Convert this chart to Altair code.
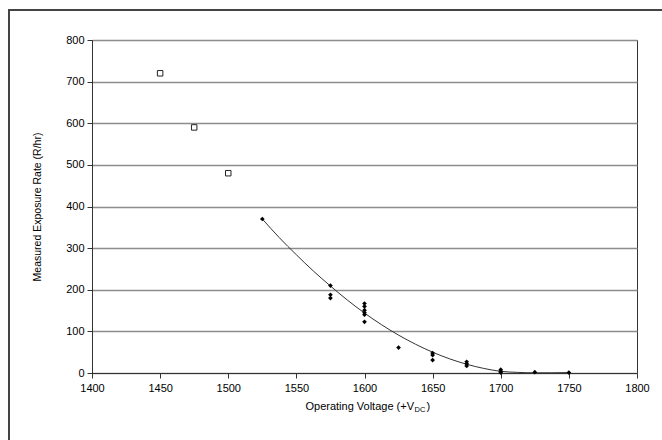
import altair as alt
import pandas as pd

# Open-square series
sq_volt = [1450, 1475, 1500]
sq_rate = [720, 590, 480]

# Filled-diamond series
dm_volt = [1525, 1575, 1575, 1575, 1600, 1600, 1600, 1600, 1600, 1600,
           1625, 1650, 1650, 1650, 1675, 1675, 1675, 1700, 1700, 1700, 1725, 1750]
dm_rate = [370, 210, 188, 180, 167, 160, 151, 145, 140, 123,
           61, 48, 43, 31, 27, 22, 17, 8, 4, 1, 2, 1]

# Trend line
tr_volt = [1525, 1537.5, 1550, 1562.5, 1575, 1587.5, 1600, 1612.5, 1625, 1637.5,
           1650, 1662.5, 1675, 1687.5, 1700, 1712.5, 1725, 1737.5, 1750]
tr_rate = [370, 325, 284, 245, 209, 175, 144, 116, 91, 69,
           50, 34, 21, 11, 4, 1.5, 0.5, 0.5, 1]

x_title = ["Operating Voltage (+V"]
x_sub = ["DC"]
x_close = [")"]
y_title = "Measured Exposure Rate (R/hr)"

FONT = "Liberation Sans"

sq = pd.DataFrame({"v": sq_volt, "r": sq_rate})
dm = pd.DataFrame({"v": dm_volt, "r": dm_rate})
tr = pd.DataFrame({"v": tr_volt, "r": tr_rate})

xs = alt.Scale(domain=[1400, 1800], nice=False, zero=False)
ys = alt.Scale(domain=[0, 800], nice=False)

xax = alt.Axis(values=list(range(1400, 1801, 50)), format="d", grid=False, title=None,
               labelFont=FONT, labelFontSize=11, labelColor="#000",
               domainColor="#333", tickColor="#333", tickSize=5, labelPadding=4,
               labelFlush=False)
yax = alt.Axis(values=list(range(0, 801, 100)), format="d", grid=True, gridColor="#8c8c8c",
               gridWidth=1.5, title=y_title, titleFont=FONT, titleFontSize=10.5,
               titleFontWeight="normal", titleColor="#000", titlePadding=23,
               labelFont=FONT, labelFontSize=11, labelColor="#000",
               domainColor="#333", tickColor="#333", tickSize=5, labelPadding=3)

base_line = alt.Chart(tr).mark_line(color="#333", strokeWidth=1, interpolate="monotone").encode(
    x=alt.X("v:Q", scale=xs, axis=xax),
    y=alt.Y("r:Q", scale=ys, axis=yax),
)

squares = alt.Chart(sq).mark_point(shape="square", size=30, filled=False,
                                   color="#222", strokeWidth=1, fill="white", fillOpacity=1).encode(
    x=alt.X("v:Q", scale=xs), y=alt.Y("r:Q", scale=ys))

diamonds = alt.Chart(dm).mark_point(shape="diamond", size=22, filled=True,
                                    color="#000", opacity=1).encode(
    x=alt.X("v:Q", scale=xs), y=alt.Y("r:Q", scale=ys))

t1 = alt.Chart(pd.DataFrame({"t": x_title})).mark_text(
    font=FONT, fontSize=11, align="right", baseline="alphabetic", color="#000").encode(
    x=alt.value(322), y=alt.value(370), text="t:N")
t2 = alt.Chart(pd.DataFrame({"t": x_sub})).mark_text(
    font=FONT, fontSize=7.5, align="left", baseline="alphabetic", color="#000").encode(
    x=alt.value(322.5), y=alt.value(372), text="t:N")
t3 = alt.Chart(pd.DataFrame({"t": x_close})).mark_text(
    font=FONT, fontSize=11, align="left", baseline="alphabetic", color="#000").encode(
    x=alt.value(334.5), y=alt.value(370), text="t:N")

frame_top = alt.Chart(pd.DataFrame({"a": [0]})).mark_rule(color="#444", strokeWidth=2).encode(
    x=alt.value(-84), x2=alt.value(580), y=alt.value(-30))
frame_left = alt.Chart(pd.DataFrame({"a": [0]})).mark_rule(color="#444", strokeWidth=2).encode(
    x=alt.value(-83), y=alt.value(-31), y2=alt.value(410))

chart = alt.layer(base_line, squares, diamonds, t1, t2, t3, frame_top, frame_left).properties(
    width=545, height=333,
    autosize=alt.AutoSizeParams(type="none"),
    padding={"left": 92, "top": 40, "right": 25, "bottom": 67},
    background="white",
).configure_view(stroke="#333", strokeWidth=1)

chart.save("out.html", embed_options={"renderer": "svg", "actions": False})
